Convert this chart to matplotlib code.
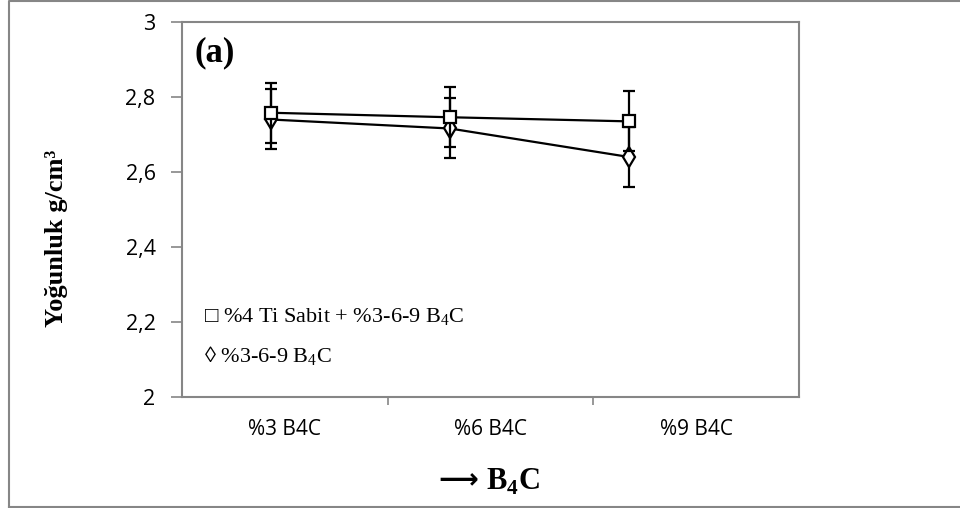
import matplotlib
matplotlib.use("Agg")
import matplotlib.pyplot as plt
from matplotlib.lines import Line2D

plt.rcParams['mathtext.fontset'] = 'custom'
plt.rcParams['mathtext.rm'] = 'Liberation Serif'
plt.rcParams['mathtext.bf'] = 'Liberation Serif:bold'

# data
categories = ["%3 B4C", "%6 B4C", "%9 B4C"]
ti_b4c = [2.758, 2.746, 2.735]       # %4 Ti sabit + %3-6-9 B4C
ti_b4c_err = [0.08, 0.08, 0.08]
b4c = [2.740, 2.716, 2.640]          # %3-6-9 B4C
b4c_err = [0.08, 0.08, 0.08]
yticks = [2, 2.2, 2.4, 2.6, 2.8, 3]
ytick_labels = ["2", "2,2", "2,4", "2,6", "2,8", "3"]

serif = ['Liberation Serif', 'DejaVu Serif']
grey = '#868686'

fig = plt.figure(figsize=(9.6, 5.08), dpi=100)
ax = fig.add_axes([182/960, 111/508, 617/960, 375/508])

ax.set_xlim(-0.5, 2.5)
ax.set_ylim(2, 3)
ax.set_xticks([0, 1, 2])
ax.set_xticklabels(categories)
ax.set_xticks([0.5, 1.5], minor=True)
ax.tick_params(axis='x', which='major', length=0, pad=16, labelsize=15)
ax.tick_params(axis='x', which='minor', length=6, color=grey, width=1.2)
ax.set_yticks(yticks)
ax.set_yticklabels(ytick_labels)
ax.tick_params(axis='y', length=8, color=grey, width=1.2, pad=11, labelsize=15.5)
for lab in ax.get_xticklabels() + ax.get_yticklabels():
    lab.set_fontfamily(['Open Sans', 'DejaVu Sans'])
for s in ax.spines.values():
    s.set_color(grey)
    s.set_linewidth(1.5)

# the series sit on their own overlay, shifted against the category ticks
ax2 = fig.add_axes(ax.get_position(), frameon=False)
ax2.set_xlim(-0.495, 2.948)
ax2.set_ylim(2, 3)
ax2.set_xticks([])
ax2.set_yticks([])
xs = range(len(categories))
ax2.errorbar(xs, ti_b4c, yerr=ti_b4c_err, color='black', lw=1.6, marker='s',
             ms=9, mfc='white', mec='black', mew=1.6, capsize=4.3, capthick=1.6,
             elinewidth=1.6, zorder=3)
ax2.errorbar(xs, b4c, yerr=b4c_err, color='black', lw=1.6, marker='d',
             ms=10, mfc='white', mec='black', mew=1.6, capsize=4.3, capthick=1.6,
             elinewidth=1.6, zorder=2)

fig.text(195/960, 1 - 53/508, "(a)", family=serif, weight='bold', fontsize=25,
         va='center', ha='left')
fig.text(204/960, 1 - 317/508, "\u25a1 %4 Ti Sabit + %3-6-9 B$_4$C", family=serif,
         fontsize=16, va='center', ha='left')
fig.text(204/960, 1 - 356/508, "\u25ca %3-6-9 B$_4$C", family=serif,
         fontsize=16, va='center', ha='left')

fig.text(57/960, 1 - 238/508, "Yoğunluk g/cm\u00b3", family=serif, weight='bold',
         fontsize=19, rotation=90, va='center', ha='center')
fig.text(458/960, 1 - 480/508, "\u27f6", family=['DejaVu Sans'], weight='bold',
         fontsize=20, va='center', ha='center')
fig.text(486/960, 1 - 482/508, "B$_\\mathbf{4}$C", family=serif, weight='bold',
         fontsize=22, va='center', ha='left')

# outer chart border
fig.add_artist(Line2D([9/960, 9/960, 1], [1 - 507/508, 1 - 1/508, 1 - 1/508],
                      transform=fig.transFigure, color=grey, lw=1.5))
fig.add_artist(Line2D([9/960, 1], [1 - 507/508, 1 - 507/508],
                      transform=fig.transFigure, color=grey, lw=1.5))

fig.savefig("out.png", dpi=100)
